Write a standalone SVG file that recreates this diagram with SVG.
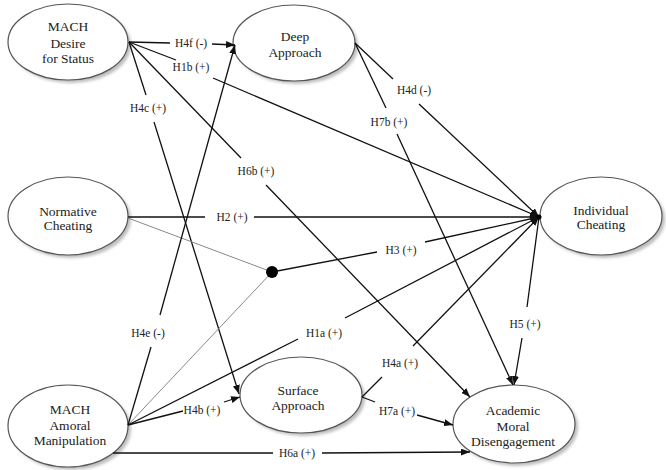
<svg xmlns="http://www.w3.org/2000/svg" width="666" height="470" viewBox="0 0 666 470">
<style>
.node ellipse.e{fill:#fff;stroke:#555;stroke-width:1.2}
.node ellipse.s{fill:#bdbdbd;filter:url(#blur)}
.node text{font-family:"Liberation Serif","Times New Roman",serif;font-size:13.5px;fill:#222;text-anchor:middle}
.c line{stroke:#111;stroke-width:1.3}
.c line.a{marker-end:url(#arr)}
.c line.g{stroke:#888;stroke-width:1}
.lbl{font-family:"Liberation Serif","Times New Roman",serif;font-size:11.5px;fill:#222;text-anchor:middle}
</style>
<defs>
<filter id="blur" x="-20%" y="-20%" width="140%" height="140%"><feGaussianBlur stdDeviation="1.5"/></filter>
<marker id="arr" markerUnits="userSpaceOnUse" markerWidth="9" markerHeight="7" refX="9" refY="3.5" orient="auto"><path d="M0,0 L9,3.5 L0,7 z" fill="#111"/></marker>
</defs>
<rect width="666" height="470" fill="#fff"/>
<g id="n-desire" class="node"><ellipse class="s" cx="71" cy="45" rx="60" ry="38"/><ellipse class="e" cx="68" cy="42" rx="60" ry="38"/><text x="68" y="31">MACH</text><text x="68" y="48">Desire</text><text x="68" y="63">for Status</text></g>
<g id="n-deep" class="node"><ellipse class="s" cx="297" cy="46" rx="61" ry="38"/><ellipse class="e" cx="294" cy="43" rx="61" ry="38"/><text x="295" y="41">Deep</text><text x="295" y="57">Approach</text></g>
<g id="n-normative" class="node"><ellipse class="s" cx="71" cy="219" rx="60" ry="39"/><ellipse class="e" cx="68" cy="216" rx="60" ry="39"/><text x="68" y="216">Normative</text><text x="68" y="230">Cheating</text></g>
<g id="n-individual" class="node"><ellipse class="s" cx="604" cy="219" rx="61" ry="39"/><ellipse class="e" cx="601" cy="216" rx="61" ry="39"/><text x="601" y="215">Individual</text><text x="601" y="229">Cheating</text></g>
<g id="n-amoral" class="node"><ellipse class="s" cx="71" cy="429" rx="60" ry="41"/><ellipse class="e" cx="68" cy="426" rx="60" ry="41"/><text x="70" y="414">MACH</text><text x="70" y="430">Amoral</text><text x="70" y="445">Manipulation</text></g>
<g id="n-surface" class="node"><ellipse class="s" cx="304" cy="398" rx="61" ry="38"/><ellipse class="e" cx="301" cy="395" rx="61" ry="38"/><text x="298" y="395">Surface</text><text x="298" y="410">Approach</text></g>
<g id="n-amd" class="node"><ellipse class="s" cx="517" cy="427" rx="61" ry="39"/><ellipse class="e" cx="514" cy="424" rx="61" ry="39"/><text x="513" y="415">Academic</text><text x="513" y="431">Moral</text><text x="513" y="446">Disengagement</text></g>
<g id="connectors" class="c">
<line x1="129" y1="42" x2="170" y2="43"/><line class="a" x1="212" y1="44" x2="235" y2="45"/>
<line x1="129" y1="42" x2="176" y2="60"/><line class="a" x1="213" y1="78" x2="539" y2="217"/>
<line x1="129" y1="42" x2="146" y2="95"/><line class="a" x1="154" y1="122" x2="239" y2="394"/>
<line x1="129" y1="42" x2="241" y2="158"/><line class="a" x1="266" y1="185" x2="470" y2="397"/>
<line x1="355" y1="43" x2="393" y2="79"/><line class="a" x1="419" y1="104" x2="539" y2="217"/>
<line x1="355" y1="43" x2="386" y2="108"/><line class="a" x1="397" y1="134" x2="513" y2="385"/>
<line x1="128" y1="217" x2="205" y2="217"/><line class="a" x1="254" y1="217" x2="539" y2="217"/>
<line class="g" x1="128" y1="218" x2="272" y2="272"/><line class="g" x1="128" y1="425" x2="272" y2="272"/>
<line x1="272" y1="272" x2="377" y2="252"/><line class="a" x1="425" y1="242" x2="539" y2="217"/>
<line x1="128" y1="425" x2="151" y2="347"/><line class="a" x1="160" y1="315" x2="235" y2="45"/>
<line x1="128" y1="425" x2="298" y2="339"/><line class="a" x1="345" y1="318" x2="539" y2="217"/>
<line x1="128" y1="425" x2="183" y2="411"/><line class="a" x1="224" y1="402" x2="240" y2="397"/>
<line x1="113" y1="453" x2="273" y2="453"/><line class="a" x1="322" y1="453" x2="470" y2="452"/>
<line x1="362" y1="397" x2="382" y2="377"/><line class="a" x1="413" y1="346" x2="539" y2="217"/>
<line x1="362" y1="397" x2="375" y2="402"/><line class="a" x1="417" y1="415" x2="453" y2="425"/>
<line x1="539" y1="217" x2="527" y2="307"/><line class="a" x1="522" y1="338" x2="514" y2="385"/>
<circle cx="272" cy="272" r="6" fill="#000"/>
<circle cx="539" cy="217" r="2.5" fill="#000"/>
</g>
<g id="labels">
<text class="lbl" x="191" y="47">H4f (-)</text>
<text class="lbl" x="191" y="71">H1b (+)</text>
<text class="lbl" x="148" y="112">H4c (+)</text>
<text class="lbl" x="256" y="175">H6b (+)</text>
<text class="lbl" x="414" y="94">H4d (-)</text>
<text class="lbl" x="389" y="126">H7b (+)</text>
<text class="lbl" x="232" y="221">H2 (+)</text>
<text class="lbl" x="401" y="254">H3 (+)</text>
<text class="lbl" x="148" y="337">H4e (-)</text>
<text class="lbl" x="324" y="337">H1a (+)</text>
<text class="lbl" x="202" y="414">H4b (+)</text>
<text class="lbl" x="297" y="457">H6a (+)</text>
<text class="lbl" x="400" y="367">H4a (+)</text>
<text class="lbl" x="397" y="415">H7a (+)</text>
<text class="lbl" x="525" y="328">H5 (+)</text>
</g>
</svg>
